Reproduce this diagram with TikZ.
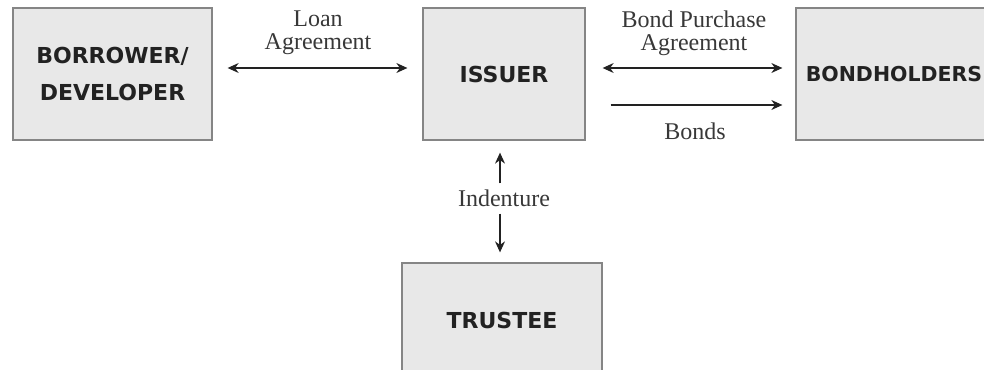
\documentclass[tikz,border=0pt]{standalone}
\usepackage{fontspec}
\setmainfont{Liberation Serif}
\setsansfont{DejaVu Sans}
\usetikzlibrary{arrows.meta}
\definecolor{boxfill}{HTML}{E8E8E8}
\definecolor{boxline}{HTML}{858585}
\definecolor{ink}{HTML}{222222}
\begin{document}
\begin{tikzpicture}[x=1pt,y=-1pt,
  party/.style={draw=boxline, line width=1.3pt, fill=boxfill, inner sep=0pt,
    font=\sffamily\bfseries\fontsize{22}{37}\selectfont, text=ink, align=center},
  lbl/.style={font=\fontsize{24}{23}\selectfont, text=ink!90, align=center, inner sep=0pt},
  conn/.style={draw=ink, line width=1.1pt},
  tip/.style={-{Stealth[length=11pt,width=10pt]}},
  dtip/.style={{Stealth[length=11pt,width=10pt]}-{Stealth[length=11pt,width=10pt]}}]
\useasboundingbox (0,0) rectangle (984,369);
\node[party, minimum width=199pt, minimum height=132pt] (bor) at (112.5,74) {BORROWER/\\DEVELOPER};
\node[party, minimum width=162pt, minimum height=132pt] (iss) at (504,74) {ISSUER};
\node[party, minimum width=196pt, minimum height=132pt, font=\sffamily\bfseries\fontsize{20.5}{24}\selectfont] (bh) at (894,74) {BONDHOLDERS};
\node[party, minimum width=200pt, minimum height=114pt] (tr) at (502,320) {TRUSTEE};
\node[lbl] (loan) at (318,33) {Loan\\Agreement};
\node[lbl] (bpa) at (694,33) {Bond Purchase\\Agreement};
\node[lbl] (bonds) at (695,131) {Bonds};
\node[lbl] (ind) at (504,198) {Indenture};
\draw[conn,dtip] ([xshift=15pt,yshift=6pt]bor.east) -- ([xshift=-15pt,yshift=6pt]iss.west);
\draw[conn,dtip] ([xshift=17pt,yshift=6pt]iss.east) -- ([xshift=-13pt,yshift=6pt]bh.west);
\draw[conn,tip] ([xshift=25pt,yshift=-31pt]iss.east) -- ([xshift=-13pt,yshift=-31pt]bh.west);
\draw[conn,tip] ([xshift=-4pt,yshift=6pt]ind.north) -- ([xshift=-4pt,yshift=-12pt]iss.south);
\draw[conn,tip] ([xshift=-4pt,yshift=-7pt]ind.south) -- ([xshift=-2pt,yshift=10pt]tr.north);
\end{tikzpicture}
\end{document}
